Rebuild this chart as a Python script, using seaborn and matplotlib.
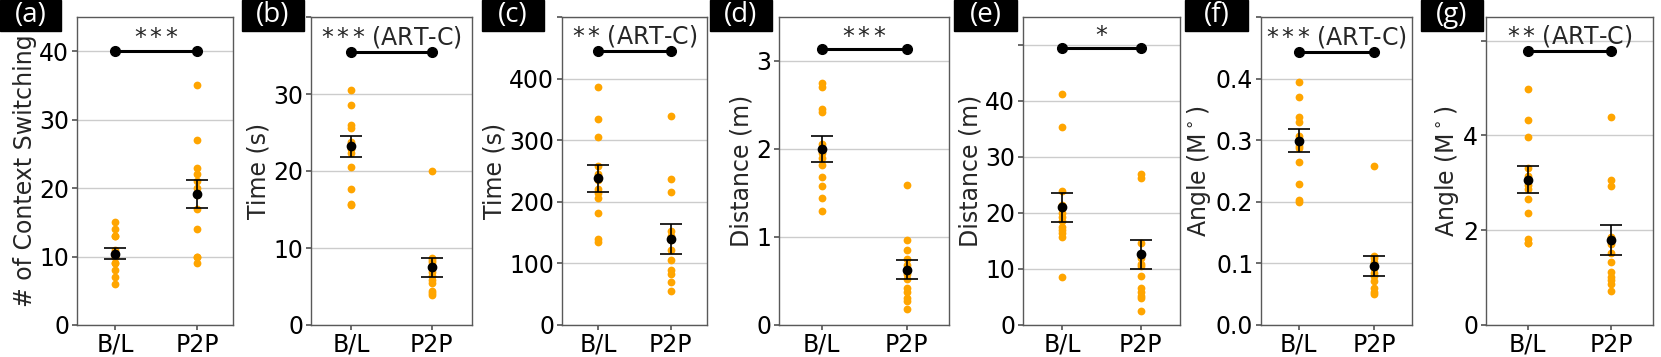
import numpy as np
import pandas as pd
import matplotlib
matplotlib.use("Agg")
import matplotlib.pyplot as plt
import seaborn as sns
from matplotlib.patches import Rectangle

# --- data ---
groups = ["B/L", "P2P"]
tags = ["(a)", "(b)", "(c)", "(d)", "(e)", "(f)", "(g)"]
y_labels = ["# of Context Switching", "Time (s)", "Time (s)", "Distance (m)",
            "Distance (m)", "Angle (M$^\\circ$)", "Angle (M$^\\circ$)"]
sig_stars = ["${*}\\,{*}\\,{*}$", "${*}\\,{*}\\,{*}$", "${*}\\,{*}$", "${*}\\,{*}\\,{*}$",
             "${*}$", "${*}\\,{*}\\,{*}$", "${*}\\,{*}$"]
sig_note = ["", " (ART-C)", " (ART-C)", "", "", " (ART-C)", " (ART-C)"]

# (a) context switching
a_bl = [15, 14, 13, 13, 11, 10, 10, 9, 9, 8, 7, 6]
a_p2p = [35, 27, 23, 22, 21, 20, 19, 17, 14, 10, 10, 9]
# (b) time
b_bl = [30.5, 28.6, 26.0, 25.6, 23.8, 23.4, 22.8, 22.3, 20.5, 17.7, 15.7, 15.6]
b_p2p = [20.0, 8.7, 8.5, 8.2, 7.6, 6.9, 6.3, 5.8, 5.5, 4.4, 4.1, 3.9]
# (c) time
c_bl = [386, 335, 305, 258, 245, 235, 220, 215, 206, 182, 139, 134]
c_p2p = [340, 237, 216, 152, 145, 138, 122, 105, 90, 83, 70, 56]
# (d) distance
d_bl = [2.75, 2.71, 2.46, 2.42, 2.06, 1.95, 1.90, 1.82, 1.68, 1.58, 1.44, 1.29]
d_p2p = [1.59, 0.97, 0.85, 0.75, 0.68, 0.58, 0.52, 0.42, 0.37, 0.31, 0.27, 0.18]
# (e) distance
e_bl = [41.2, 35.3, 24.0, 21.5, 20.0, 19.3, 18.5, 17.5, 17.0, 16.5, 15.8, 8.6]
e_p2p = [27.0, 26.3, 14.6, 12.0, 10.9, 10.5, 8.7, 6.6, 5.9, 5.2, 4.8, 2.5]
# (f) angle
f_bl = [0.394, 0.370, 0.337, 0.330, 0.307, 0.300, 0.290, 0.288, 0.265, 0.229, 0.203, 0.200]
f_p2p = [0.258, 0.112, 0.108, 0.103, 0.098, 0.092, 0.085, 0.080, 0.072, 0.060, 0.053, 0.050]
# (g) angle
g_bl = [4.99, 4.33, 3.96, 3.32, 3.15, 2.95, 2.86, 2.65, 2.36, 1.81, 1.74, 1.72]
g_p2p = [4.38, 3.06, 2.93, 1.85, 1.70, 1.52, 1.32, 1.12, 1.01, 0.95, 0.87, 0.71]

# means and standard errors as drawn
mean_bl = [10.4, 23.2, 238, 2.0, 21.0, 0.299, 3.07]
mean_p2p = [19.2, 7.5, 139, 0.63, 12.6, 0.096, 1.80]
se_bl = [0.8, 1.35, 21.7, 0.145, 2.6, 0.0185, 0.275]
se_p2p = [2.05, 1.25, 24.5, 0.11, 2.6, 0.016, 0.32]

sig_y = [40.1, 35.5, 445, 3.14, 49.4, 0.443, 5.79]
y_top = [45, 40, 500, 3.5, 55, 0.5, 6.5]
y_ticks = [[0, 10, 20, 30, 40], [0, 10, 20, 30, 40], [0, 100, 200, 300, 400, 500],
           [0, 1, 2, 3], [0, 10, 20, 30, 40, 50], [0, 0.1, 0.2, 0.3, 0.4, 0.5], [0, 2, 4, 6]]
y_ticklabels = [["0", "10", "20", "30", "40"], ["0", "10", "20", "30", ""],
                ["0", "100", "200", "300", "400", ""], ["0", "1", "2", "3"],
                ["0", "10", "20", "30", "40", ""], ["0.0", "0.1", "0.2", "0.3", "0.4", ""],
                ["0", "2", "4", ""]]

points = [(a_bl, a_p2p), (b_bl, b_p2p), (c_bl, c_p2p), (d_bl, d_p2p),
          (e_bl, e_p2p), (f_bl, f_p2p), (g_bl, g_p2p)]

# --- layout (pixels of the 1661x357 canvas) ---
W, H = 1661, 357
ax_px = [(77, 233), (311, 472), (562, 707), (779, 949), (1023, 1180), (1261, 1412), (1486, 1653)]
tag_px = [(0, 61), (242, 304), (482, 544), (710, 772), (954, 1017), (1185, 1248), (1421, 1483)]
top_px, bot_px = 17, 325
x_lims = [(-0.47, 1.44)] + [(-0.5, 1.5)] * 6

sns.set_theme(style="whitegrid", rc={
    "axes.edgecolor": "0.35", "axes.linewidth": 1.0,
    "grid.color": "0.8", "grid.linewidth": 1.0,
    "xtick.bottom": True, "ytick.left": True,
    "xtick.major.size": 3.5, "ytick.major.size": 3.5,
    "xtick.color": "0.35", "ytick.color": "0.35",
    "xtick.labelcolor": "black", "ytick.labelcolor": "black",
})
plt.rcParams["font.family"] = ["DejaVu Sans"]
plt.rcParams["mathtext.fontset"] = "dejavusans"

fig = plt.figure(figsize=(W / 100, H / 100), dpi=100)

for i in range(7):
    l, r = ax_px[i]
    ax = fig.add_axes([l / W, 1 - bot_px / H, (r - l) / W, (bot_px - top_px) / H])
    bl, p2p = points[i]
    df = pd.DataFrame({"group": ["B/L"] * len(bl) + ["P2P"] * len(p2p),
                       "value": list(bl) + list(p2p)})
    sns.stripplot(data=df, x="group", y="value", order=groups, jitter=False,
                  color="orange", size=5.6, linewidth=0, ax=ax, zorder=2)
    ax.errorbar([0, 1], [mean_bl[i], mean_p2p[i]], yerr=[se_bl[i], se_p2p[i]],
                fmt="o", color="black", ms=6, elinewidth=1.2, capsize=8,
                capthick=1.2, zorder=4)
    ax.plot([0, 1], [sig_y[i], sig_y[i]], "-o", color="black", lw=2.2, ms=7, zorder=5)
    ax.annotate(sig_stars[i] + sig_note[i], xy=(0.5, sig_y[i]), xytext=(0, 1.5),
                textcoords="offset points", ha="center", va="bottom", fontsize=17)
    ax.set_xlim(*x_lims[i])
    ax.set_ylim(0, y_top[i])
    ax.set_yticks(y_ticks[i])
    ax.set_yticklabels(y_ticklabels[i])
    ax.tick_params(labelsize=17, pad=2)
    ax.set_xlabel("")
    ax.set_ylabel(y_labels[i], fontsize=17, labelpad=2)
    ax.grid(axis="x", visible=False)

    tl, tr = tag_px[i]
    fig.patches.append(Rectangle((tl / W, 1 - 31 / H), (tr - tl) / W, 31 / H,
                                 transform=fig.transFigure, color="black", zorder=10))
    fig.text((tl + tr) / 2 / W, 1 - 15 / H, tags[i], color="white", fontsize=20,
             family="Open Sans", ha="center", va="center", zorder=11)

fig.savefig("out.png", dpi=100)
